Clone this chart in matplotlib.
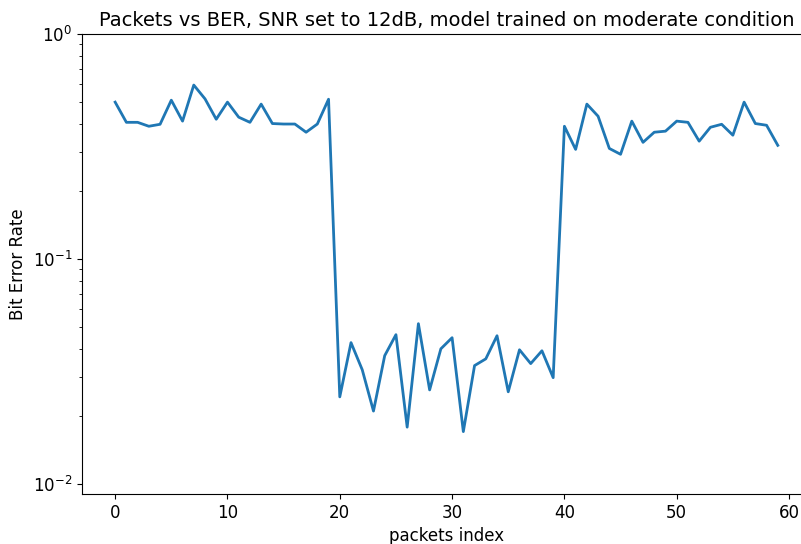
import numpy as np
import matplotlib
matplotlib.use('Agg')
import matplotlib.pyplot as plt

# bit error rate per packet
packets = np.arange(60)
ber = [0.498, 0.405, 0.405, 0.389, 0.397, 0.508, 0.41, 0.593, 0.515, 0.418,
       0.498, 0.427, 0.405, 0.488, 0.40, 0.398, 0.398, 0.366, 0.398, 0.513,
       0.0244, 0.0425, 0.0322, 0.0211, 0.0372, 0.0461, 0.0179, 0.0516, 0.0262, 0.0399,
       0.0447, 0.0171, 0.0336, 0.036, 0.0456, 0.0257, 0.0395, 0.0343, 0.0391, 0.0297,
       0.389, 0.307, 0.488, 0.431, 0.31, 0.292, 0.41, 0.33, 0.366, 0.37,
       0.41, 0.405, 0.334, 0.385, 0.397, 0.355, 0.498, 0.40, 0.393, 0.32]

plt.rcParams['font.size'] = 12

fig = plt.figure(figsize=(8.01, 5.44), dpi=100)
ax = fig.add_axes([0.1024, 0.0919, 0.910, 0.8456])
ax.plot(packets, ber, color='#1f77b4', linewidth=2)
ax.set_yscale('log')
ax.set_ylim(0.00903, 1)
ax.set_xlabel('packets index')
ax.set_ylabel('Bit Error Rate')
ax.set_title('Packets vs BER, SNR set to 12dB, model trained on moderate condition', fontsize=14)

fig.savefig('out.png', dpi=100)
